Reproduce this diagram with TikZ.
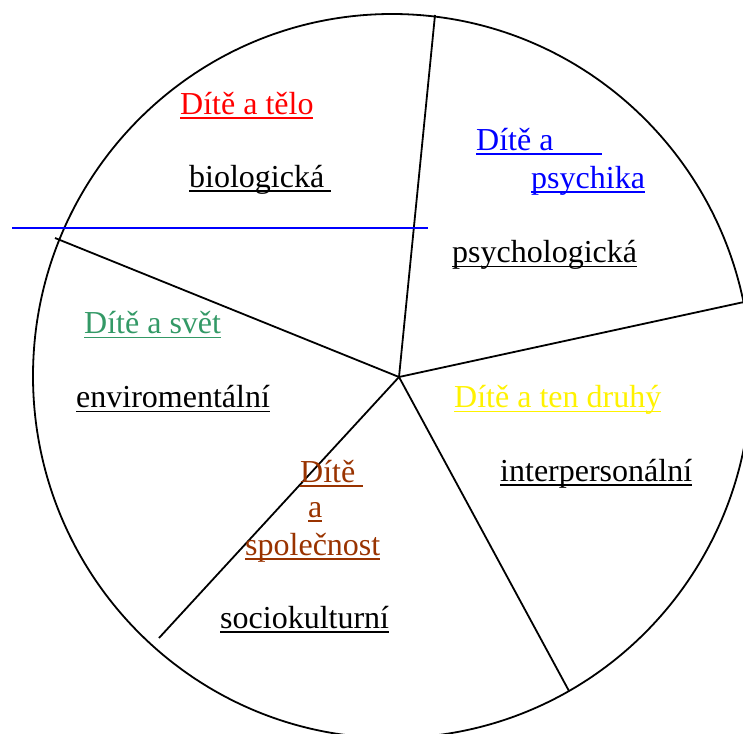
\documentclass[tikz,border=0pt]{standalone}
\usepackage{fontspec}
\setmainfont{Liberation Serif}
\definecolor{seagr}{HTML}{339966}
\definecolor{brn}{HTML}{993300}
\newcommand\ulx[2][0pt]{\setbox0=\hbox{#2}\rlap{\rule[-4.75pt]{\dimexpr\wd0+#1\relax}{1.5pt}}\box0}
\begin{document}
\begin{tikzpicture}[x=1pt,y=-1pt,
  lbl/.style={anchor=base west,inner sep=0pt,font=\fontsize{32}{38}\selectfont},
  sector/.style={draw=black,line width=1.8pt},
  sepline/.style={draw=blue,line width=1.7pt}]
\path[use as bounding box] (0,0) rectangle (743,733);
\clip (0,0) rectangle (743,733);
% circle
\draw[sector] (392,376) ellipse [x radius=359pt, y radius=362pt];
% sector lines
\coordinate (c) at (399,377);
\coordinate (e1) at (435,15);
\coordinate (e2) at (744,302);
\coordinate (e3) at (569,691);
\coordinate (e4) at (159,638);
\coordinate (e5) at (55,238);
\draw[sector] (c) -- (e1);
\draw[sector] (c) -- (e2);
\draw[sector] (c) -- (e3);
\draw[sector] (c) -- (e4);
\draw[sector] (c) -- (e5);
% blue line
\coordinate (b1) at (12,228);
\coordinate (b2) at (428,228);
\draw[sepline] (b1) -- (b2);
% labels
\node[lbl,text=red] (t1) at (180,114) {\ulx{Dítě a tělo}};
\node[lbl] (s1) at (189,187) {\ulx[7pt]{biologická}};
\node[lbl,text=blue] (t2a) at (476,150) {\ulx[48pt]{Dítě a}};
\node[lbl,text=blue] (t2b) at (531,188) {\ulx{psychika}};
\node[lbl] (s2) at (452,262.5) {\ulx{psychologická}};
\node[lbl,text=seagr] (t3) at (84,333.5) {\ulx{Dítě a svět}};
\node[lbl] (s3) at (76,407.5) {\ulx{enviromentální}};
\node[lbl,text=yellow] (t4) at (454,407.5) {\ulx{Dítě a ten druhý}};
\node[lbl] (s4) at (500,481) {\ulx{interpersonální}};
\node[lbl,text=brn] (t5a) at (300,482) {\ulx[8pt]{Dítě}};
\node[lbl,text=brn] (t5b) at (308,517) {\ulx{a}};
\node[lbl,text=brn] (t5c) at (245,555) {\ulx{společnost}};
\node[lbl] (s5) at (220,628) {\ulx{sociokulturní}};
\end{tikzpicture}
\end{document}
